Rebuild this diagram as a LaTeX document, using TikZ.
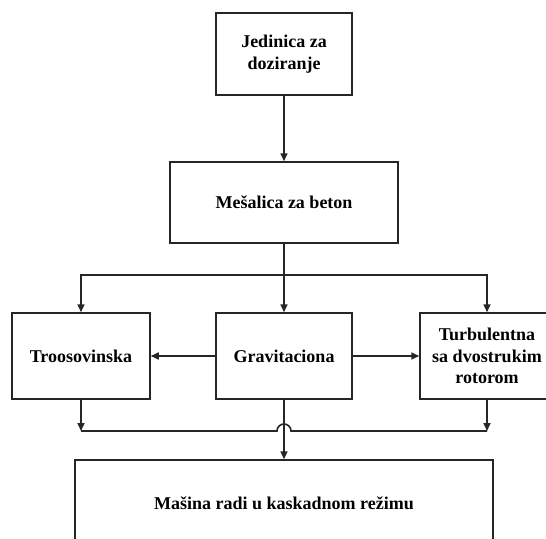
\documentclass[tikz,border=0pt]{standalone}
\usepackage{fontspec}
\setmainfont{Liberation Serif}
\usetikzlibrary{arrows.meta}
\tikzset{
  box/.style={draw=black!85, line width=1.5pt, fill=white, align=center,
    inner sep=2pt, font=\fontsize{18}{21.5}\selectfont\bfseries},
  arr/.style={draw=black!85, line width=1.6pt, -{Triangle[length=8pt,width=7pt]}},
  ln/.style={draw=black!85, line width=1.6pt}
}
\begin{document}
\begin{tikzpicture}[x=1pt, y=-1pt]
  \useasboundingbox (0,0) rectangle (546,538);
  \clip (0,0) rectangle (546,538);

  % process blocks
  \node[box, minimum width=136pt, minimum height=82pt] (dose) at (284,54) {Jedinica za\\doziranje};
  \node[box, minimum width=228pt, minimum height=81pt] (mix) at (284,202.5) {Mešalica za beton};
  \node[box, minimum width=138pt, minimum height=86pt] (tro) at (81,356) {Troosovinska};
  \node[box, minimum width=136pt, minimum height=86pt] (grav) at (284,356) {Gravitaciona};
  \node[box, minimum width=134pt, minimum height=86pt] (turb) at (487,356) {Turbulentna\\sa dvostrukim\\rotorom};
  \node[box, minimum width=418pt, minimum height=86pt] (mas) at (284,503) {Mašina radi u kaskadnom režimu};

  % junction points
  \coordinate (split) at (284,275);
  \coordinate (busL) at (81,431);
  \coordinate (busR) at (487,431);
  \coordinate (hop) at (284,431);

  % flow from dosing unit to mixer and the three mixer types
  \draw[arr] (dose) -- (mix);
  \draw[ln] (mix) -- (split);
  \draw[arr] (split) -- (grav);
  \draw[arr] (split) -| (tro);
  \draw[arr] (split) -| (turb);
  \draw[arr] (grav) -- (tro);
  \draw[arr] (grav) -- (turb);

  % collector line with a hop over the central feed
  \draw[arr] (tro) -- (busL);
  \draw[arr] (turb) -- (busR);
  \draw[ln] (busL) -- ([xshift=-7pt]hop) arc[start angle=180, end angle=0, radius=7pt] -- (busR);
  \draw[arr] (grav) -- (mas);
\end{tikzpicture}
\end{document}
